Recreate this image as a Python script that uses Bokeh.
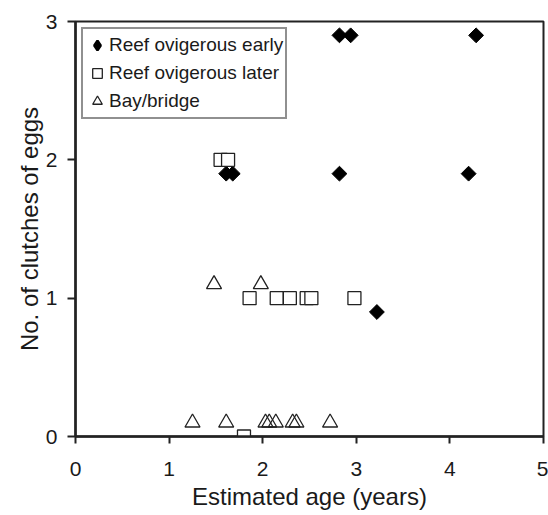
from bokeh.plotting import figure
from bokeh.models import Range1d, Legend, LegendItem, FixedTicker
from bokeh.embed import file_html
from bokeh.resources import INLINE
import math

# Reef ovigerous early (filled diamonds)
early_x = [1.61, 1.68, 2.82, 4.20, 2.82, 2.94, 4.28, 3.22]
early_y = [1.9, 1.9, 1.9, 1.9, 2.9, 2.9, 2.9, 0.9]
# Reef ovigerous later (open squares)
later_x = [1.55, 1.63, 1.86, 2.15, 2.29, 2.47, 2.52, 2.98, 1.80]
later_y = [2.0, 2.0, 1.0, 1.0, 1.0, 1.0, 1.0, 1.0, 0.0]
# Bay/bridge (open triangles)
bay_x = [1.48, 1.98, 1.25, 1.61, 2.03, 2.07, 2.14, 2.32, 2.36, 2.72]
bay_y = [1.1, 1.1, 0.1, 0.1, 0.1, 0.1, 0.1, 0.1, 0.1, 0.1]

x_ticks = [0, 1, 2, 3, 4, 5]
y_ticks = [0, 1, 2, 3]

FONT = "Liberation Sans"
TXT = "#1a1a1a"
INK = "#222222"

p = figure(width=548, height=515, output_backend="svg", toolbar_location=None,
           x_range=Range1d(0, 5), y_range=Range1d(0, 3),
           min_border_left=75, min_border_right=5, min_border_top=21, min_border_bottom=79)
p.grid.visible = False
p.outline_line_color = INK
p.outline_line_width = 2
p.background_fill_color = "white"
p.border_fill_color = "white"

r_early = p.scatter(early_x, early_y, marker="square", angle=math.pi / 4, size=10.5,
                    fill_color="black", line_color="black", line_width=1)
r_later = p.scatter(later_x, later_y, marker="square", size=13,
                    fill_color="white", line_color=INK, line_width=1.3)
r_bay = p.scatter(bay_x, bay_y, marker="triangle", size=15,
                  fill_color=None, line_color=INK, line_width=1.3)
# hidden copy used only as the legend key (legend glyphs ignore marker angle)
r_early_key = p.scatter(early_x, early_y, marker="diamond", size=10,
                        fill_color="black", line_color="black", line_width=2.5,
                        visible=False)

for ax in (p.xaxis[0], p.yaxis[0]):
    ax.axis_line_width = 2.5
    ax.axis_line_color = INK
    ax.major_tick_line_width = 2
    ax.major_tick_line_color = INK
    ax.major_tick_in = 0
    ax.minor_tick_line_color = None
    ax.major_label_text_font = FONT
    ax.major_label_text_font_size = "21px"
    ax.major_label_text_color = TXT
    ax.axis_label_text_font = FONT
    ax.axis_label_text_font_size = "24px"
    ax.axis_label_text_font_style = "normal"
    ax.axis_label_text_color = TXT

p.xaxis.ticker = FixedTicker(ticks=x_ticks)
p.yaxis.ticker = FixedTicker(ticks=y_ticks)
p.xaxis.major_tick_out = 7
p.yaxis.major_tick_out = 8
p.xaxis.major_label_standoff = 18
p.yaxis.major_label_standoff = 10
p.xaxis.axis_label = "Estimated age (years)"
p.yaxis.axis_label = "No. of clutches of eggs"
p.xaxis.axis_label_standoff = 4
p.yaxis.axis_label_standoff = 0

legend = Legend(items=[
    LegendItem(label="Reef ovigerous early", renderers=[r_early_key]),
    LegendItem(label="Reef ovigerous later", renderers=[r_later]),
    LegendItem(label="Bay/bridge", renderers=[r_bay]),
], location="top_left")
legend.margin = 6
legend.padding = 2
legend.spacing = 0
legend.glyph_width = 24
legend.glyph_height = 28
legend.label_height = 28
legend.label_standoff = 0
legend.label_text_font = FONT
legend.label_text_font_size = "19px"
legend.label_text_color = TXT
legend.border_line_color = INK
legend.border_line_width = 2
legend.background_fill_alpha = 1
legend.inactive_fill_alpha = 0
legend.click_policy = "none"
p.add_layout(legend)

open("out.html", "w").write(file_html(p, INLINE))
